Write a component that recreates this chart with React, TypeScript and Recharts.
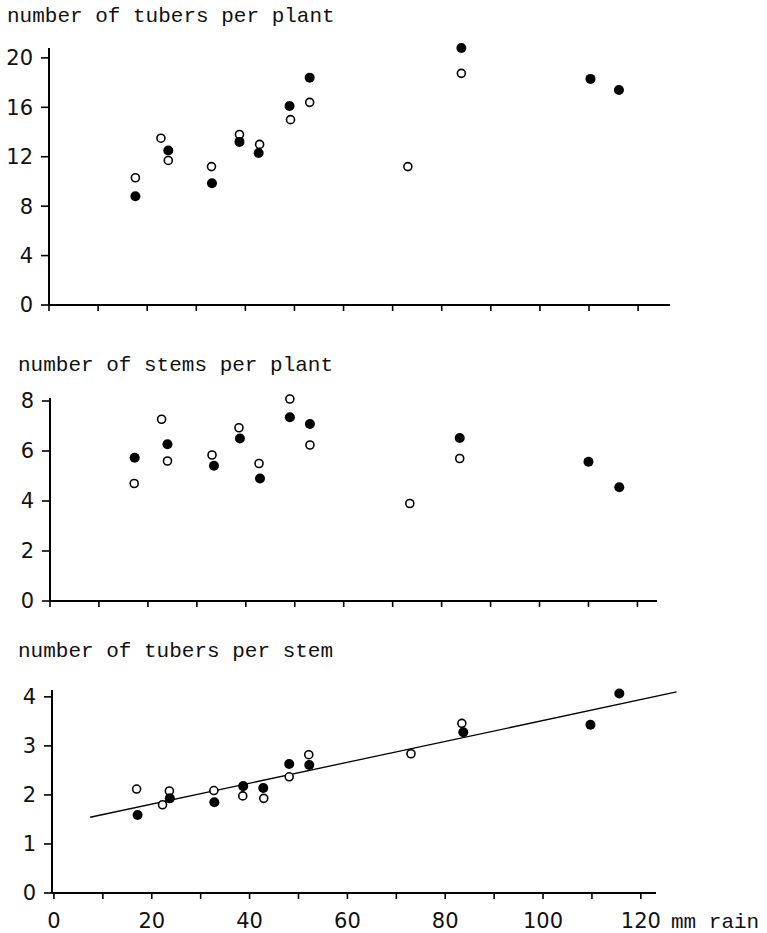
import React from 'react';
import { ScatterChart, Scatter, XAxis, YAxis, ReferenceLine } from 'recharts';

// ---- data (mm rain on x) ----
const tubersPlantFilledX = [17.6, 24.3, 33.2, 38.8, 42.7, 49.0, 53.1, 84.0, 110.3, 116.1];
const tubersPlantFilledY = [8.8, 12.5, 9.85, 13.2, 12.3, 16.1, 18.4, 20.8, 18.3, 17.4];
const tubersPlantOpenX = [17.6, 22.8, 24.3, 33.1, 38.8, 42.9, 49.2, 53.1, 73.1, 84.0];
const tubersPlantOpenY = [10.3, 13.5, 11.7, 11.2, 13.8, 13.0, 15.0, 16.4, 11.2, 18.75];

const stemsPlantFilledX = [17.3, 24.0, 33.5, 38.8, 42.9, 49.0, 53.1, 83.7, 110.0, 116.3];
const stemsPlantFilledY = [5.73, 6.27, 5.41, 6.5, 4.9, 7.35, 7.08, 6.52, 5.57, 4.55];
const stemsPlantOpenX = [17.2, 22.8, 24.0, 33.1, 38.6, 42.7, 49.0, 53.1, 73.5, 83.7];
const stemsPlantOpenY = [4.7, 7.27, 5.6, 5.84, 6.93, 5.5, 8.08, 6.24, 3.9, 5.7];

const tubersStemFilledX = [17.1, 23.7, 32.8, 38.7, 42.8, 48.1, 52.2, 83.7, 109.7, 115.6];
const tubersStemFilledY = [1.59, 1.93, 1.85, 2.18, 2.14, 2.63, 2.61, 3.28, 3.43, 4.07];
const tubersStemOpenX = [16.9, 22.2, 23.6, 32.7, 38.6, 42.9, 48.1, 52.1, 73.0, 83.4];
const tubersStemOpenY = [2.12, 1.8, 2.08, 2.09, 1.98, 1.93, 2.37, 2.82, 2.84, 3.46];

const fitX = [7.4, 127.3];
const fitY = [1.545, 4.1];

const xTicks = [0, 10, 20, 30, 40, 50, 60, 70, 80, 90, 100, 110, 120];
const yTicksTop = [0, 4, 8, 12, 16, 20];
const yTicksMid = [0, 2, 4, 6, 8];
const yTicksBot = [0, 1, 2, 3, 4];

const titles = ['number of tubers per plant', 'number of stems per plant', 'number of tubers per stem'];
const xUnit = 'mm rain';

const zip = (xs: number[], ys: number[]) => xs.map((x, i) => ({ x, y: ys[i] }));

const FilledDot = (p: any) => <circle cx={p.cx} cy={p.cy} r={5} fill="#000" />;
const OpenDot = (p: any) => <circle cx={p.cx} cy={p.cy} r={4} fill="#fff" stroke="#000" strokeWidth={1.6} />;

const tickStyle = { fontSize: 21, fontFamily: 'DejaVu Sans', fill: '#111' };
const axisLine = { stroke: '#000', strokeWidth: 2 };
const tickLine = { stroke: '#000', strokeWidth: 1.6 };

type PanelProps = {
  top: number;
  height: number;
  margin: { top: number; right: number; bottom: number; left: number };
  xDomain: [number, number];
  yDomain: [number, number];
  yTicks: number[];
  xAxisHeight: number;
  showXLabels: boolean;
  filled: { x: number; y: number }[];
  open: { x: number; y: number }[];
  fit?: boolean;
};

function Panel(props: PanelProps) {
  const { top, height, margin, xDomain, yDomain, yTicks, xAxisHeight, showXLabels, filled, open, fit } = props;
  return (
    <div style={{ position: 'absolute', left: 0, top, width: 767, height }}>
      <ScatterChart width={767} height={height} margin={margin}>
        <XAxis
          type="number"
          dataKey="x"
          domain={xDomain}
          ticks={xTicks}
          allowDataOverflow={false}
          height={xAxisHeight}
          axisLine={axisLine}
          tickLine={tickLine}
          tickSize={6}
          tickMargin={14}
          tick={tickStyle}
          interval={0}
          tickFormatter={(v: number) => (showXLabels && v % 20 === 0 ? String(v) : '')}
        />
        <YAxis
          type="number"
          dataKey="y"
          domain={yDomain}
          ticks={yTicks}
          width={40}
          axisLine={axisLine}
          tickLine={tickLine}
          tickSize={8}
          tickMargin={8}
          tick={tickStyle}
          interval={0}
        />
        {fit && (
          <ReferenceLine
            segment={[
              { x: fitX[0], y: fitY[0] },
              { x: fitX[1], y: fitY[1] },
            ]}
            stroke="#000"
            strokeWidth={1.3}
            ifOverflow="visible"
          />
        )}
        <Scatter data={open} shape={OpenDot} isAnimationActive={false} />
        <Scatter data={filled} shape={FilledDot} isAnimationActive={false} />
      </ScatterChart>
    </div>
  );
}

export default function App() {
  const titleStyle = { fontFamily: 'Liberation Mono', fontSize: 21, fill: '#111' } as const;
  return (
    <div style={{ position: 'absolute', left: 0, top: 0, width: 767, height: 933, background: '#fff', overflow: 'hidden' }}>
      <Panel
        top={0}
        height={340}
        margin={{ top: 48, right: 97, bottom: 0, left: 9 }}
        xDomain={[0, 126.5]}
        yDomain={[0, 20.8]}
        yTicks={yTicksTop}
        xAxisHeight={35}
        showXLabels={false}
        filled={zip(tubersPlantFilledX, tubersPlantFilledY)}
        open={zip(tubersPlantOpenX, tubersPlantOpenY)}
      />
      <Panel
        top={340}
        height={290}
        margin={{ top: 58, right: 110, bottom: 0, left: 10 }}
        xDomain={[0, 124]}
        yDomain={[0, 8.12]}
        yTicks={yTicksMid}
        xAxisHeight={29}
        showXLabels={false}
        filled={zip(stemsPlantFilledX, stemsPlantFilledY)}
        open={zip(stemsPlantOpenX, stemsPlantOpenY)}
      />
      <Panel
        top={630}
        height={303}
        margin={{ top: 60, right: 111, bottom: 0, left: 12 }}
        xDomain={[-0.4, 123.1]}
        yDomain={[0, 4.14]}
        yTicks={yTicksBot}
        xAxisHeight={40}
        showXLabels={true}
        filled={zip(tubersStemFilledX, tubersStemFilledY)}
        open={zip(tubersStemOpenX, tubersStemOpenY)}
        fit
      />
      <svg width={767} height={933} style={{ position: 'absolute', left: 0, top: 0, pointerEvents: 'none' }}>
        <text x={7} y={22} style={titleStyle}>{titles[0]}</text>
        <text x={18} y={371} style={titleStyle}>{titles[1]}</text>
        <text x={18} y={657} style={titleStyle}>{titles[2]}</text>
        <text x={671} y={928} style={titleStyle}>{xUnit}</text>
      </svg>
    </div>
  );
}
